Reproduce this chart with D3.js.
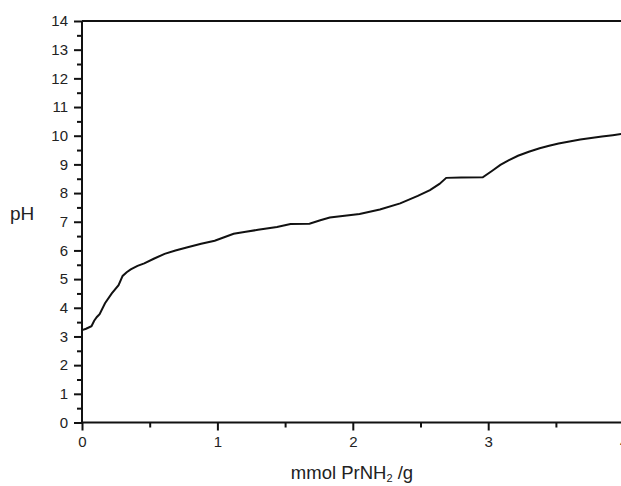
<!DOCTYPE html>
<html>
<head>
<meta charset="utf-8">
<script src="https://cdn.jsdelivr.net/npm/d3@7"></script>
<style>
  body { margin: 0; background: #fff; }
  text { font-family: "Liberation Sans", Arial, sans-serif; fill: #222; }
</style>
</head>
<body>
<div id="chart"></div>
<script>
// titration curve
const amine = [0, 0.03, 0.07, 0.09, 0.11, 0.13, 0.17, 0.22, 0.27, 0.30, 0.33, 0.36, 0.41, 0.46, 0.53, 0.61, 0.69, 0.78, 0.88, 0.98,
  1.05, 1.12, 1.21, 1.30, 1.44, 1.54, 1.68, 1.76, 1.83, 1.94, 2.05, 2.20, 2.35, 2.48, 2.57, 2.64, 2.69, 2.80, 2.96,
  3.03, 3.09, 3.15, 3.22, 3.30, 3.38, 3.45, 3.52, 3.60, 3.68, 3.76, 3.84, 3.92, 4.00];
const pH = [3.22, 3.27, 3.36, 3.55, 3.68, 3.78, 4.16, 4.50, 4.79, 5.11, 5.24, 5.34, 5.46, 5.55, 5.71, 5.88, 6.00, 6.11, 6.23, 6.34,
  6.46, 6.58, 6.65, 6.72, 6.82, 6.92, 6.93, 7.05, 7.15, 7.21, 7.27, 7.43, 7.64, 7.90, 8.10, 8.32, 8.53, 8.54, 8.55,
  8.78, 8.98, 9.14, 9.30, 9.44, 9.56, 9.65, 9.73, 9.80, 9.87, 9.92, 9.97, 10.02, 10.07];
const yTicks = d3.range(0, 15);
const xTicks = [0, 1, 2, 3, 4];

const width = 621, height = 486;
const x = d3.scaleLinear().domain([0, 4]).range([82, 623.6]);
const y = d3.scaleLinear().domain([0, 14]).range([422.5, 21]);

const svg = d3.select("#chart").append("svg")
    .attr("width", width)
    .attr("height", height);

// y axis
const yAxis = svg.append("g")
    .attr("transform", `translate(${x(0)},0)`)
    .call(d3.axisLeft(y).tickValues(yTicks).tickSize(8).tickPadding(6).tickFormat(d3.format("d")));
yAxis.selectAll("text").attr("font-size", "15px");
svg.append("g")
    .attr("transform", `translate(${x(0)},0)`)
    .call(d3.axisLeft(y).tickValues(d3.range(0.5, 14, 1)).tickSize(5).tickFormat(""));

// x axis
const xAxis = svg.append("g")
    .attr("transform", `translate(0,${y(0)})`)
    .call(d3.axisBottom(x).tickValues(xTicks).tickSize(8).tickPadding(6).tickFormat(d3.format("d")));
xAxis.selectAll("text").attr("font-size", "15px");
svg.append("g")
    .attr("transform", `translate(0,${y(0)})`)
    .call(d3.axisBottom(x).tickValues([0.5, 1.5, 2.5, 3.5]).tickSize(5).tickFormat(""));

svg.selectAll(".domain").remove();
svg.selectAll(".tick line").attr("stroke", "#111").attr("stroke-width", 2);

// frame: left, bottom, top
svg.append("line").attr("x1", x(0)).attr("x2", x(0)).attr("y1", y(14)).attr("y2", y(0))
    .attr("stroke", "#111").attr("stroke-width", 2);
svg.append("line").attr("x1", x(0)).attr("x2", x(4)).attr("y1", y(0)).attr("y2", y(0))
    .attr("stroke", "#111").attr("stroke-width", 2);
svg.append("line").attr("x1", x(0)).attr("x2", x(4)).attr("y1", y(14)).attr("y2", y(14))
    .attr("stroke", "#111").attr("stroke-width", 2);

// curve
const line = d3.line().x((d, i) => x(amine[i])).y(d => y(d));
svg.append("path")
    .datum(pH)
    .attr("d", line)
    .attr("fill", "none")
    .attr("stroke", "#111")
    .attr("stroke-width", 2);

// labels
svg.append("text")
    .attr("x", 10).attr("y", 220)
    .attr("font-size", "19px")
    .text("pH");

const xt = svg.append("text")
    .attr("x", 352).attr("y", 479)
    .attr("text-anchor", "middle")
    .attr("font-size", "18.5px");
xt.append("tspan").text("mmol PrNH");
xt.append("tspan").attr("font-size", "11px").attr("dy", 3).text("2");
xt.append("tspan").attr("dy", -3).text(" /g");
</script>
</body>
</html>
